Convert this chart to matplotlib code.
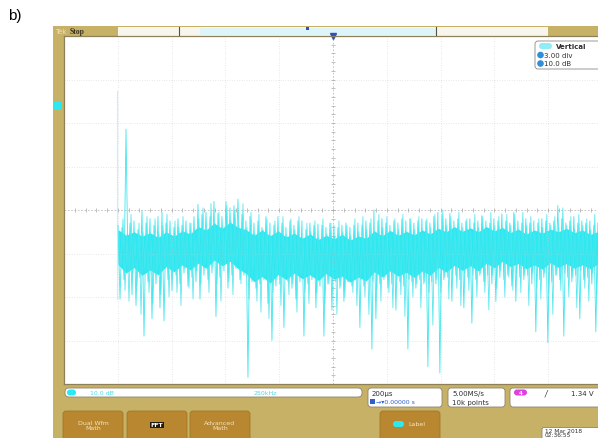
import numpy as np
import matplotlib.pyplot as plt
from matplotlib.patches import Rectangle, FancyBboxPatch, Circle

# FFT trace (dB, one point every ~9.29 kHz)
freq_start = 251.0   # kHz
freq_step = 9.29     # kHz
trace_db = [
    -3.5, -20.5, -4.0, -16.0, 18.6, -14.0, -3.0, -19.5, -2.5, -22.0, -4.5, -15.5, -0.2, -29.0, -3.0, -16.5, -2.0, -25.0, -3.5, -17.0,
    -1.5, -22.5, -0.5, -25.5, -3.0, -16.0, -2.5, -18.5, -4.0, -15.0, -2.0, -17.0, -3.5, -14.5, -2.5, -17.5, -3.0, -15.5, -1.5, -16.5,
    1.3, -20.5, -1.0, -15.0, -0.5, -16.0, -1.5, -14.5, 2.0, -24.5, -0.8, -15.5, -1.5, -14.0, 2.0, -18.0, 0.5, -15.0, 1.0, -13.5,
    2.5, -16.0, -1.0, -15.0, -2.5, -38.5, -1.5, -16.5, -3.0, -18.0, -2.5, -17.0, -4.0, -16.0, -1.5, -21.5, -3.0, -30.0, -3.5, -17.5,
    -1.5, -17.0, -3.0, -27.0, -4.0, -16.5, -2.5, -18.0, -3.5, -20.5, -2.5, -16.5, -2.5, -29.0, -4.5, -17.0, -3.0, -16.0, -3.5, -22.5,
    -3.2, -17.5, -3.5, -29.0, -4.0, -17.0, -3.0, -23.0, -3.5, -16.5, -4.0, -18.0, -3.5, -21.0, -3.0, -16.5, -4.0, -17.5, -3.5, -16.0,
    -3.0, -27.0, -3.5, -17.5, -2.5, -16.0, -3.0, -32.0, 0.0, -25.0, -2.5, -17.0, -2.0, -16.0, -3.0, -18.0, -3.5, -17.0, -2.5, -23.0,
    -3.0, -16.5, -2.0, -17.5, -2.5, -32.0, -2.0, -16.5, -3.0, -18.0, -2.5, -16.0, -2.0, -17.0, -2.5, -36.0, -3.0, -16.5, -1.5, -17.0,
    -0.5, -37.5, -1.0, -16.0, -2.0, -15.5, -0.8, -21.0, -2.5, -15.0, -2.0, -16.0, -3.0, -22.5, -2.5, -15.5, -2.0, -26.0, -3.0, -16.0,
    -2.5, -15.0, -1.3, -16.5, -2.5, -15.0, -3.0, -17.0, -2.0, -21.0, -2.5, -15.5, -0.9, -16.0, -2.5, -15.0, -3.0, -17.5, -0.5, -21.0,
    -2.5, -15.5, -3.0, -16.0, -2.0, -15.0, -3.0, -17.0, -2.5, -28.0, -3.0, -16.0, -2.0, -15.5, -2.5, -30.5, -3.0, -16.5, -2.5, -15.0,
    1.0, -16.0, -2.0, -29.0, -3.0, -15.5, -2.5, -16.5, -1.5, -15.0, -3.0, -25.0, -2.5, -16.0, -3.0, -15.5, -2.5, -17.0, -3.5, -28.0,
    -3.0, -16.0,
]
# in-between bins (offset by half a step)
trace_mid_db = [
    -6.0, -13.0, -2.0, -18.5, -5.5, -21.0, -1.0, -14.5, -6.5, -17.5, -3.0, -24.0, -5.0, -13.5, -1.5, -19.0, -7.0, -21.5, -2.0, -14.0,
    -5.5, -19.5, -3.5, -13.0, -1.0, -20.0, -6.0, -14.5, -2.5, -19.0, -4.0, -22.0, -1.5, -13.5, -5.0, -18.0, -3.0, -20.5, -6.5, -14.0,
    -2.0, -17.0, 0.5, -12.5, -4.5, -19.0, 1.5, -13.0, -3.0, -17.0, -0.5, -21.0, -5.0, -12.5, 1.0, -16.5, -2.5, -19.5, 0.0, -12.0,
    -3.5, -17.0, 1.5, -14.0, -4.0, -20.5, -0.5, -13.5, -5.5, -21.0, -1.0, -23.5, -4.5, -15.0, -2.0, -25.0, -6.0, -19.0, -2.5, -16.0,
    -5.0, -22.0, -1.5, -14.5, -6.0, -19.5, -2.0, -17.0, -4.5, -23.5, -1.5, -15.0, -6.5, -19.0, -3.0, -21.5, -5.0, -15.5, -2.5, -19.0,
    -6.5, -16.0, -2.0, -21.5, -5.5, -17.0, -3.0, -15.5, -6.0, -24.0, -2.5, -17.5, -5.0, -20.0, -3.5, -16.5, -6.0, -19.0, -2.0, -22.0,
    -5.0, -16.0, -1.5, -20.0, -4.5, -24.0, -2.0, -16.5, -5.0, -18.0, -1.0, -21.0, -4.0, -15.5, -1.5, -19.0, -5.5, -22.5, -2.0, -16.0,
    -4.5, -19.5, -1.0, -24.5, -5.0, -16.0, -2.0, -20.0, -4.5, -17.0, -1.5, -22.5, -5.5, -16.5, -2.0, -19.0, -4.0, -26.5, -1.0, -16.0,
    -4.5, -19.0, 0.0, -15.5, -3.5, -20.5, -1.5, -14.5, -4.5, -18.0, -0.5, -22.0, -4.0, -14.5, -2.0, -18.5, -5.0, -15.0, -1.0, -20.0,
    -4.0, -14.5, -1.5, -19.0, -5.0, -23.0, -0.5, -15.0, -3.5, -18.0, -1.5, -14.0, -4.5, -20.0, -1.0, -15.5, -3.5, -18.5, -1.0, -14.5,
    -4.5, -19.0, -0.5, -15.0, -3.5, -22.0, -1.5, -14.5, -5.0, -18.0, -2.0, -20.5, -4.0, -14.5, -1.0, -19.0, -3.5, -24.0, -1.5, -15.0,
    -4.0, -18.5, 0.5, -14.5, -3.5, -20.0, -1.5, -15.5, -4.5, -22.5, -1.0, -14.0, -3.5, -18.0, -2.0, -21.0, -4.5, -14.5, -1.0, -19.5,
    -3.5, -15.0,
]
# dense core of the noise band (dB), read every ~37 kHz
core_start = 251.0
core_step = 37.2
core_top_db = [-4.5, -5.8, -5.0, -6.0, -5.2, -6.3, -5.0, -6.0, -4.8, -5.5, -3.8, -4.6, -3.0, -4.2, -2.8, -4.0,
               -4.5, -5.8, -4.6, -5.9, -4.8, -6.2, -5.3, -6.5, -5.5, -6.8, -5.8, -6.6, -5.6, -6.9, -6.0, -6.5,
               -4.8, -5.9, -4.7, -5.8, -4.9, -5.7, -4.6, -5.5, -4.2, -5.0, -3.8, -4.9, -4.1, -5.0, -3.8, -4.8,
               -4.0, -5.2, -4.4, -5.5, -4.6, -5.3, -4.4, -5.0, -4.2, -5.2, -4.6, -5.6, -4.9]
core_bot_db = [-12.5, -14.5, -13.2, -15.0, -13.8, -14.9, -13.0, -14.2, -12.6, -13.8, -12.2, -13.4, -11.5, -12.8,
               -11.8, -13.5, -14.6, -16.5, -15.3, -16.8, -14.8, -16.0, -14.5, -15.8, -14.9, -16.2, -14.6, -15.9,
               -15.2, -16.6, -15.4, -16.3, -14.2, -15.4, -14.0, -15.2, -14.3, -15.5, -14.0, -15.0, -13.2, -14.3,
               -12.7, -13.9, -12.8, -14.0, -12.2, -13.3, -11.8, -13.0, -12.3, -13.5, -12.6, -13.6, -12.1, -13.2,
               -12.3, -13.4, -12.6, -13.5, -12.3]
# faint first line at the left of the trace
ghost_khz = 246.0
ghost_db = 27.4

TAN = '#C6B167'
BTN = '#B8872F'
CYAN = '#2CE8F0'

fig = plt.figure(figsize=(5.98, 4.39), dpi=100)

# background layer in pixel coordinates
bg = fig.add_axes([0, 0, 1, 1], zorder=0)
bg.set_xlim(0, 598)
bg.set_ylim(439, 0)
bg.axis('off')
bg.text(8, 16, 'b)', fontsize=11, family='Liberation Sans', va='center', ha='left')
bg.add_patch(Rectangle((53, 27), 560, 420, color=TAN, lw=0))
# top bar
bg.add_patch(Rectangle((118, 28), 430, 8.5, color='#F7F6EE', lw=0))
bg.add_patch(Rectangle((200, 28.5), 236, 7.5, color='#DDF5F8', lw=0))
bg.plot([179, 179], [28, 37], color='#555040', lw=0.8)
bg.plot([436, 436], [28, 37], color='#555040', lw=0.8)
bg.add_patch(Rectangle((306, 28), 2.5, 2.5, color='#3050C0', lw=0))
bg.text(55, 32, 'Tek', fontsize=5, color='#EDE3BC', va='center')
bg.text(70, 32, 'Stop', fontsize=5.5, color='#3A3220', va='center', weight='bold',
        family='Liberation Serif')

# status strip below graticule
bg.add_patch(FancyBboxPatch((65, 389), 297, 9, boxstyle='round,pad=0,rounding_size=4',
                            fc='white', ec='#8C8470', lw=0.6))
bg.add_patch(FancyBboxPatch((67, 390.5), 9, 6, boxstyle='round,pad=0,rounding_size=3',
                            fc=CYAN, ec='none'))
bg.text(90, 394, '10.0 dB', fontsize=4.5, color='#4FD9E6', va='center')
bg.text(265, 394, '250kHz', fontsize=4.5, color='#4FD9E6', va='center', ha='center')

boxes = [(368, 74), (448, 57), (510, 95)]
for bx, bw in boxes:
    bg.add_patch(FancyBboxPatch((bx, 389), bw, 19, boxstyle='round,pad=0,rounding_size=3',
                                fc='white', ec='#8C8470', lw=0.6))
bg.text(372, 394, '200µs', fontsize=5, color='#303030', va='center')
bg.add_patch(Rectangle((370, 400.5), 4.5, 4.5, color='#3060C8', lw=0))
bg.text(376, 403, '→▾0.00000 s', fontsize=4.5, color='#3060C8', va='center')
bg.text(452, 394, '5.00MS/s', fontsize=5, color='#303030', va='center')
bg.text(452, 403, '10k points', fontsize=5, color='#303030', va='center')
bg.add_patch(FancyBboxPatch((514, 390.5), 13, 6, boxstyle='round,pad=0,rounding_size=3',
                            fc='#E040E0', ec='none'))
bg.text(520.5, 393.6, '4', fontsize=4, color='white', va='center', ha='center', weight='bold')
bg.text(545, 394, '/', fontsize=5.5, color='#303030', va='center', style='italic')
bg.text(571, 394, '1.34 V', fontsize=5, color='#303030', va='center')

# soft buttons
buttons = [(63, 60, 'Dual Wfm\nMath'), (127, 60, 'FFT'), (190, 60, 'Advanced\nMath'),
           (380, 60, '')]
for bx, bw, lab in buttons:
    bg.add_patch(FancyBboxPatch((bx, 412), bw, 40, boxstyle='round,pad=0,rounding_size=3',
                                fc=BTN, ec='#A27828', lw=0.6))
    if lab == 'FFT':
        bg.text(bx + bw / 2, 426, lab, fontsize=4.5, color='white', ha='center', va='center',
                weight='bold', bbox=dict(boxstyle='square,pad=0.15', fc='#201A10', ec='none'))
    elif lab:
        bg.text(bx + bw / 2, 426, lab, fontsize=4.5, color='#F3E4C4', ha='center', va='center',
                linespacing=1.1)
bg.add_patch(FancyBboxPatch((393, 422), 11, 6, boxstyle='round,pad=0,rounding_size=3',
                            fc=CYAN, ec='none'))
bg.text(408, 425, 'Label', fontsize=4.5, color='#F3E4C4', va='center')
bg.add_patch(FancyBboxPatch((542, 428.5), 60, 16, boxstyle='round,pad=0,rounding_size=2',
                            fc='white', ec='#8C8470', lw=0.6))
bg.text(545, 432, '12 Mar 2018', fontsize=4.2, color='#303030', va='center')
bg.text(545, 438.5, '02:36:55', fontsize=4.2, color='#303030', va='bottom')

# graticule
ax = fig.add_axes([64 / 598, 1 - 385 / 439, 538 / 598, 348 / 439], zorder=1)
ax.set_facecolor('white')
ax.set_xlim(0, 2500)
ax.set_ylim(-40, 40)
ax.set_xticks([])
ax.set_yticks([])
for s in ax.spines.values():
    s.set_color('#8E8058')
    s.set_linewidth(0.9)
for gx in range(250, 2500, 250):
    if gx != 1250:
        ax.axvline(gx, color='#D2D2D2', lw=0.5, ls=(0, (1, 2.5)))
for gy in range(-30, 40, 10):
    if gy != 0:
        ax.axhline(gy, color='#D2D2D2', lw=0.5, ls=(0, (1, 2.5)))
ax.axhline(0, color='#BDBDBD', lw=0.6, ls=(0, (2, 2)))
ax.axvline(1250, color='#BDBDBD', lw=0.6, ls=(0, (2, 2)))
tx = np.arange(0, 2501, 50)
ty = np.arange(-40, 41, 2)
ax.plot(tx, np.zeros_like(tx), ls='none', marker='|', ms=2.5, mew=0.5, color='#A8A8A8')
ax.plot(np.full_like(ty, 1250), ty, ls='none', marker='_', ms=2.5, mew=0.5, color='#A8A8A8')

freqs = freq_start + freq_step * np.arange(len(trace_db))
freqs_mid = freqs[:len(trace_mid_db)] + freq_step / 2
core_f = core_start + core_step * np.arange(len(core_top_db))
ax.plot([ghost_khz, ghost_khz], [trace_db[1], ghost_db], color='#BDF6F9', lw=0.8)
ax.fill_between(core_f, core_bot_db, core_top_db, color=CYAN, lw=0)
ax.plot(freqs_mid, trace_mid_db, color='#52E6EE', lw=0.55)
ax.plot(freqs, trace_db, color='#3FE6EE', lw=0.6)
ax.plot([1250], [40], marker='v', ms=4, color='#3050C0', clip_on=False)

# overlay readouts
ov = fig.add_axes([0, 0, 1, 1], zorder=2)
ov.set_xlim(0, 598)
ov.set_ylim(439, 0)
ov.axis('off')
ov.patch.set_alpha(0)
ov.add_patch(Rectangle((53, 103), 8, 8, color=CYAN, lw=0))
ov.add_patch(FancyBboxPatch((535, 42), 66, 28, boxstyle='round,pad=0,rounding_size=3',
                            fc='white', ec='#8A8A8A', lw=0.6))
ov.add_patch(FancyBboxPatch((539, 44), 13, 6, boxstyle='round,pad=0,rounding_size=3',
                            fc='#8DEFF5', ec='none'))
ov.text(556, 47, 'Vertical', fontsize=5, color='#303030', va='center', weight='bold')
ov.add_patch(Circle((540.5, 56), 2.6, color='#2F8FD8'))
ov.add_patch(Circle((540.5, 64.5), 2.6, color='#2F8FD8'))
ov.text(544, 56, '3.00 div', fontsize=5, color='#303030', va='center')
ov.text(544, 64.5, '10.0 dB', fontsize=5, color='#303030', va='center')

fig.savefig('out.png', dpi=100)
